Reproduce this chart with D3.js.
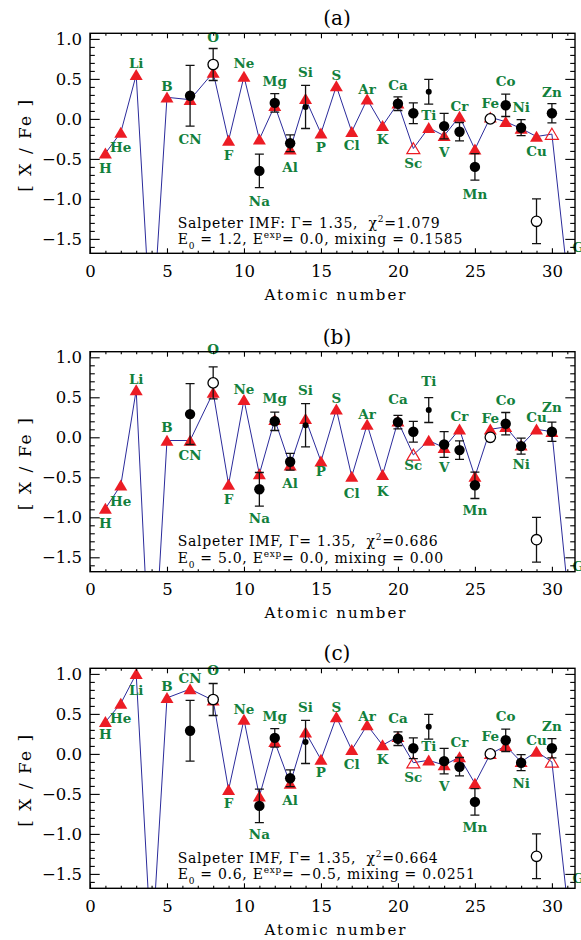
<!DOCTYPE html>
<html>
<head>
<meta charset="utf-8">
<script src="https://cdn.jsdelivr.net/npm/d3@7"></script>
<style>
body{margin:0;background:#fff;}
text{font-family:"DejaVu Serif",serif;}
</style>
</head>
<body>
<svg id="fig" width="581" height="940"></svg>
<script>
//元素及原子序数（CN画在C与N之间）
var elements=["H","He","Li","Be","B","CN","O","F","Ne","Na","Mg","Al","Si","P","S","Cl","Ar","K","Ca","Sc","Ti","V","Cr","Mn","Fe","Co","Ni","Cu","Zn","Ga"];
var atomicZ=[1,2,3,4,5,6.5,8,9,10,11,12,13,14,15,16,17,18,19,20,21,22,23,24,25,26,27,28,29,30,31];
//模型 [X/Fe]
var modelA=[-0.43,-0.17,0.55,-2.8,0.27,0.24,0.58,-0.27,0.53,-0.255,0.165,-0.38,0.25,-0.18,0.41,-0.16,0.245,-0.085,0.195,-0.37,-0.11,-0.21,0.03,-0.38,0.02,-0.035,-0.12,-0.22,-0.19,-1.96];
var modelB=[-0.89,-0.60,0.59,-3.35,-0.04,-0.04,0.56,-0.59,0.47,-0.46,0.22,-0.35,0.23,-0.30,0.35,-0.49,0.16,-0.47,0.20,-0.22,-0.04,-0.13,0.10,-0.49,0.10,0.13,-0.10,0.10,0.07,-1.87];
var modelC=[0.40,0.63,1.0,-2.5,0.70,0.81,0.67,-0.45,0.43,-0.53,0.15,-0.37,0.27,-0.07,0.46,0.05,0.36,0.11,0.215,-0.11,-0.08,-0.14,-0.04,-0.37,0.0,0.10,-0.10,0.03,-0.10,-1.86];
//元素名标注的位置（数据单位），null表示不显示
var labelA=[-0.62,-0.36,0.70,null,0.41,-0.255,1.02,-0.45,0.69,-1.035,0.465,-0.60,0.58,-0.35,0.55,-0.33,0.37,-0.26,0.42,-0.56,0.04,-0.42,0.16,-0.94,0.20,0.465,0.145,-0.40,0.33,-1.60];
var labelB=[-1.08,-0.80,0.725,null,0.125,-0.23,1.10,-0.77,0.60,-1.01,0.49,-0.57,0.59,-0.42,0.49,-0.70,0.29,-0.68,0.47,-0.35,0.70,-0.38,0.26,-0.91,0.24,0.46,-0.34,0.25,0.37,-1.61];
var labelC=[0.24,0.445,0.79,null,0.84,0.945,1.05,-0.62,0.56,-1.01,0.465,-0.58,0.58,-0.235,0.58,-0.126,0.47,-0.07,0.445,-0.29,0.09,-0.41,0.14,-0.92,0.215,0.47,-0.37,0.165,0.34,-1.56];
var labelXShift={"Ga":1};
//空心三角
var openA=["Sc","Zn"],openB=["Sc"],openC=["Sc","Zn"];
//观测值
var obsZ=[6.5,8,11,12,13,14,20,21,22,23,24,25,26,27,28,29,30];
var obsVal=[0.29,0.68,-0.65,0.20,-0.305,0.15,0.19,0.07,0.34,-0.09,-0.16,-0.60,0.0,0.17,-0.11,-1.28,0.07];
var obsErr=[0.38,0.20,0.21,0.115,0.105,0.27,0.085,0.13,0.155,0.16,0.115,0.165,0,0.14,0.10,0.28,0.12];
var obsKind=["big","open","big","big","big","small","big","big","small","big","big","big","open","big","big","open","big"];
//文字
var titles=["(a)","(b)","(c)"];
var imfSep=[":",",",","];
var chi2=["1.079","0.686","0.664"];
var e0=["1.2","5.0","0.6"];
var eexp=["0.0","0.0","\u22120.5"];
var mixing=["0.1585","0.00","0.0251"];
var xTicks=[0,5,10,15,20,25,30];
var yTicks=[-1.5,-1.0,-0.5,0.0,0.5,1.0];

var models=[modelA,modelB,modelC];
var labels=[labelA,labelB,labelC];
var opens=[openA,openB,openC];

var svg=d3.select("#fig");
svg.append("rect").attr("width",581).attr("height",940).attr("fill","#fff");

var tops=[33.3,351.7,668.3];
var H=220,left=90,right=575;
var red="#ec1c24",green="#12803c",navy="#2b2b9b";

var x=d3.scaleLinear().domain([0,31.5]).range([left,right]);
var y=d3.scaleLinear().domain([-1.68,1.07]).range([H,0]);

var annoSpacing=null;

function drawPanel(i){
    var model=models[i],lab=labels[i],openList=opens[i];
    var g=svg.append("g").attr("transform","translate(0,"+tops[i]+")");
    g.append("clipPath").attr("id","clip"+i)
        .append("rect").attr("x",left).attr("y",0).attr("width",right-left).attr("height",H);
    var plot=g.append("g").attr("clip-path","url(#clip"+i+")");

    //模型折线
    var pts=atomicZ.map(function(z,k){return [z,model[k]];});
    plot.append("path").datum(pts)
        .attr("d",d3.line().x(function(d){return x(d[0]);}).y(function(d){return y(d[1]);}))
        .attr("fill","none").attr("stroke",navy).attr("stroke-width",1);

    //三角形
    plot.selectAll(".tri").data(elements).enter().append("path")
        .attr("class","tri")
        .attr("d","M0,-5.8L6.5,5.2L-6.5,5.2Z")
        .attr("transform",function(d,k){return "translate("+x(atomicZ[k])+","+y(model[k])+")";})
        .attr("fill",function(d){return openList.indexOf(d)!=-1?"none":red;})
        .attr("stroke",function(d){return openList.indexOf(d)!=-1?red:"none";})
        .attr("stroke-width",1.2);

    //观测误差棒
    var obs=obsZ.map(function(z,k){return {z:z,v:obsVal[k],e:obsErr[k],kind:obsKind[k]};});
    var eb=plot.selectAll(".err").data(obs.filter(function(d){return d.e>0;})).enter().append("g")
        .attr("class","err").attr("stroke","#111").attr("stroke-width",1.3);
    eb.append("line")
        .attr("x1",function(d){return x(d.z);}).attr("x2",function(d){return x(d.z);})
        .attr("y1",function(d){return y(d.v+d.e);}).attr("y2",function(d){return y(d.v-d.e);});
    eb.append("line")
        .attr("x1",function(d){return x(d.z)-4.5;}).attr("x2",function(d){return x(d.z)+4.5;})
        .attr("y1",function(d){return y(d.v+d.e);}).attr("y2",function(d){return y(d.v+d.e);});
    eb.append("line")
        .attr("x1",function(d){return x(d.z)-4.5;}).attr("x2",function(d){return x(d.z)+4.5;})
        .attr("y1",function(d){return y(d.v-d.e);}).attr("y2",function(d){return y(d.v-d.e);});

    plot.selectAll(".obs").data(obs).enter().append("circle")
        .attr("class","obs")
        .attr("cx",function(d){return x(d.z);})
        .attr("cy",function(d){return y(d.v);})
        .attr("r",function(d){return d.kind=="small"?3:5.2;})
        .attr("fill",function(d){return d.kind=="open"?"#fff":"#000";})
        .attr("stroke","#000")
        .attr("stroke-width",function(d){return d.kind=="open"?1.3:0;});

    //元素名
    g.selectAll(".lab").data(elements.filter(function(d,k){return lab[k]!=null;})).enter().append("text")
        .attr("class","lab")
        .attr("x",function(d){var k=elements.indexOf(d);return x(atomicZ[k]+(labelXShift[d]||0));})
        .attr("y",function(d){return y(lab[elements.indexOf(d)]);})
        .attr("dy","0.35em")
        .attr("text-anchor","middle")
        .attr("font-size",13.5)
        .attr("font-weight","bold")
        .attr("fill",green)
        .text(function(d){return d;});

    //坐标轴
    function styleAxis(sel){
        sel.select(".domain").remove();
        sel.selectAll("text").attr("font-family","'Liberation Sans',sans-serif").attr("font-size",16.5).attr("fill","#000");
        sel.selectAll("line").attr("stroke","#000").attr("stroke-width",1.1);
    }
    var minorX=d3.range(0,32).filter(function(v){return v%5!=0;});
    var minorY=d3.range(-16,11).map(function(v){return v/10;}).filter(function(v){return Math.abs(Math.round(v*10))%5!=0;});
    g.append("g").attr("transform","translate(0,"+H+")")
        .call(d3.axisBottom(x).tickValues(xTicks).tickSize(-5).tickPadding(12).tickFormat(d3.format("d"))).call(styleAxis);
    g.append("g").attr("transform","translate(0,"+H+")")
        .call(d3.axisBottom(x).tickValues(minorX).tickSize(-2.5).tickFormat("")).call(styleAxis);
    g.append("g")
        .call(d3.axisTop(x).tickValues(xTicks).tickSize(-5).tickFormat("")).call(styleAxis);
    g.append("g")
        .call(d3.axisTop(x).tickValues(minorX).tickSize(-2.5).tickFormat("")).call(styleAxis);
    g.append("g").attr("transform","translate("+left+",0)")
        .call(d3.axisLeft(y).tickValues(yTicks).tickSize(-9.7).tickPadding(8).tickFormat(d3.format(".1f"))).call(styleAxis);
    g.append("g").attr("transform","translate("+left+",0)")
        .call(d3.axisLeft(y).tickValues(minorY).tickSize(-4.8).tickFormat("")).call(styleAxis);
    g.append("g").attr("transform","translate("+right+",0)")
        .call(d3.axisRight(y).tickValues(yTicks).tickSize(-9.7).tickFormat("")).call(styleAxis);
    g.append("g").attr("transform","translate("+right+",0)")
        .call(d3.axisRight(y).tickValues(minorY).tickSize(-4.8).tickFormat("")).call(styleAxis);
    g.append("rect").attr("x",left).attr("y",0).attr("width",right-left).attr("height",H)
        .attr("fill","none").attr("stroke","#000").attr("stroke-width",1.4);

    //标题、轴名
    g.append("text").attr("x",337).attr("y",-15).attr("dy","0.35em").attr("text-anchor","middle")
        .attr("font-size",20).text(titles[i]);
    var xt=g.append("text").attr("x",336).attr("y",H+41).attr("dy","0.35em").attr("text-anchor","middle")
        .attr("font-size",15).text("Atomic number");
    fit(xt,141);
    var yt=g.append("text").attr("transform","translate(25,"+(H/2+1.5)+") rotate(-90)")
        .attr("dy","0.35em").attr("text-anchor","middle").attr("font-size",17).text("[ X / Fe ]");
    fit(yt,92);

    //拟合参数
    var t1=g.append("text").attr("x",177.7).attr("y",H-25.5).attr("font-size",14).style("white-space","pre");
    t1.append("tspan").text("Salpeter IMF"+imfSep[i]+" \u0393= 1.35,  \u03c7");
    t1.append("tspan").attr("dy",-6).attr("font-size",9).text("2");
    t1.append("tspan").attr("dy",6).text("="+chi2[i]);
    var t2=g.append("text").attr("x",177.7).attr("y",H-9).attr("font-size",14).style("white-space","pre");
    t2.append("tspan").text("E");
    t2.append("tspan").attr("dy",5).attr("font-size",9).text("0");
    t2.append("tspan").attr("dy",-5).text(" = "+e0[i]+", E");
    t2.append("tspan").attr("dy",-6).attr("font-size",9).text("exp");
    t2.append("tspan").attr("dy",6).text("= "+eexp[i]+", mixing = "+mixing[i]);
    if(annoSpacing==null){
        var w=t1.node().getComputedTextLength();
        var n=t1.text().length;
        annoSpacing=(262-w)/(n-1);
    }
    t1.attr("letter-spacing",annoSpacing);
    t2.attr("letter-spacing",annoSpacing);
}

function fit(sel,target){
    var w=sel.node().getComputedTextLength();
    var n=sel.text().length;
    sel.attr("letter-spacing",(target-w)/(n-1));
}

for(var i=0;i<3;i++){
    drawPanel(i);
}
</script>
</body>
</html>
